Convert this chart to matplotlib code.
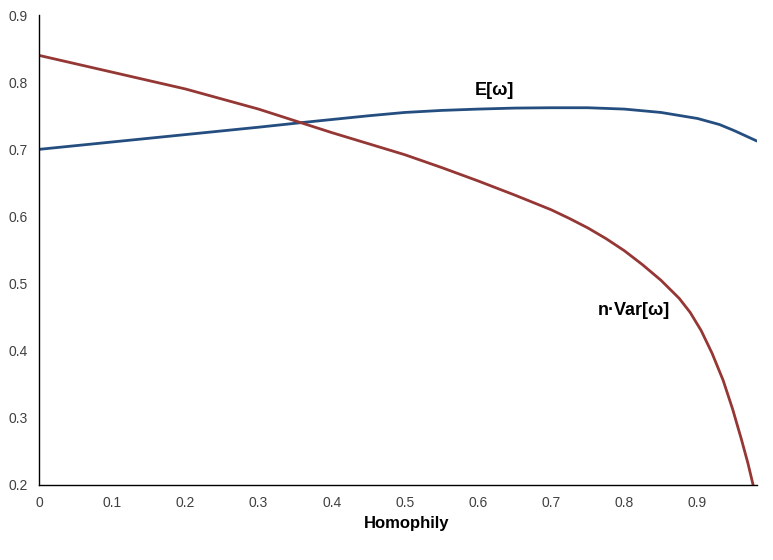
import matplotlib
matplotlib.use("Agg")
import matplotlib.pyplot as plt

# homophily grid and curves
x_mean = [0, 0.1, 0.2, 0.3, 0.36, 0.45, 0.5, 0.55, 0.6, 0.65, 0.7, 0.75, 0.8, 0.85, 0.9, 0.93, 0.95, 0.98]
e_w = [0.700, 0.711, 0.722, 0.733, 0.740, 0.750, 0.755, 0.758, 0.760, 0.7615, 0.762, 0.762, 0.760, 0.755, 0.746, 0.737, 0.728, 0.713]

x_var = [0, 0.1, 0.2, 0.3, 0.36, 0.4, 0.5, 0.55, 0.6, 0.65, 0.7, 0.725, 0.75, 0.775, 0.8,
         0.825, 0.85, 0.875, 0.89, 0.905, 0.92, 0.935, 0.948, 0.96, 0.969, 0.976]
nvar_w = [0.840, 0.815, 0.790, 0.760, 0.739, 0.725, 0.692, 0.673, 0.653, 0.632, 0.610, 0.597, 0.583, 0.567, 0.549,
          0.528, 0.505, 0.478, 0.457, 0.430, 0.396, 0.356, 0.313, 0.268, 0.232, 0.200]

xticks = [0, 0.1, 0.2, 0.3, 0.4, 0.5, 0.6, 0.7, 0.8, 0.9]
xtick_labels = ["0", "0.1", "0.2", "0.3", "0.4", "0.5", "0.6", "0.7", "0.8", "0.9"]
yticks = [0.2, 0.3, 0.4, 0.5, 0.6, 0.7, 0.8, 0.9]

plt.rcParams['font.family'] = ['Liberation Sans', 'DejaVu Sans']

fig = plt.figure(figsize=(7.73, 5.6), dpi=100)
ax = fig.add_axes([0.0505, 0.134, 0.9285, 0.839])

ax.plot(x_mean, e_w, color='#254E80', lw=2.0)
ax.plot(x_var, nvar_w, color='#953735', lw=2.0)

ax.set_xlim(0, 0.981)
ax.set_ylim(0.2, 0.9)
ax.set_xticks(xticks)
ax.set_xticklabels(xtick_labels)
ax.set_yticks(yticks)
ax.tick_params(length=0, labelsize=10, labelcolor='#404040', pad=8)

for s in ['top', 'right']:
    ax.spines[s].set_visible(False)
for s in ['left', 'bottom']:
    ax.spines[s].set_linewidth(1.0)

ax.text(0.623, 0.787, 'E[ω]', fontsize=13, fontweight='bold', ha='center', va='center')
ax.text(0.813, 0.460, 'n·Var[ω]', fontsize=13, fontweight='bold', ha='center', va='center')
ax.set_xlabel('Homophily', fontsize=12, fontweight='bold')
ax.xaxis.set_label_coords(0.512, -0.067)

fig.savefig('out.png', dpi=100)
